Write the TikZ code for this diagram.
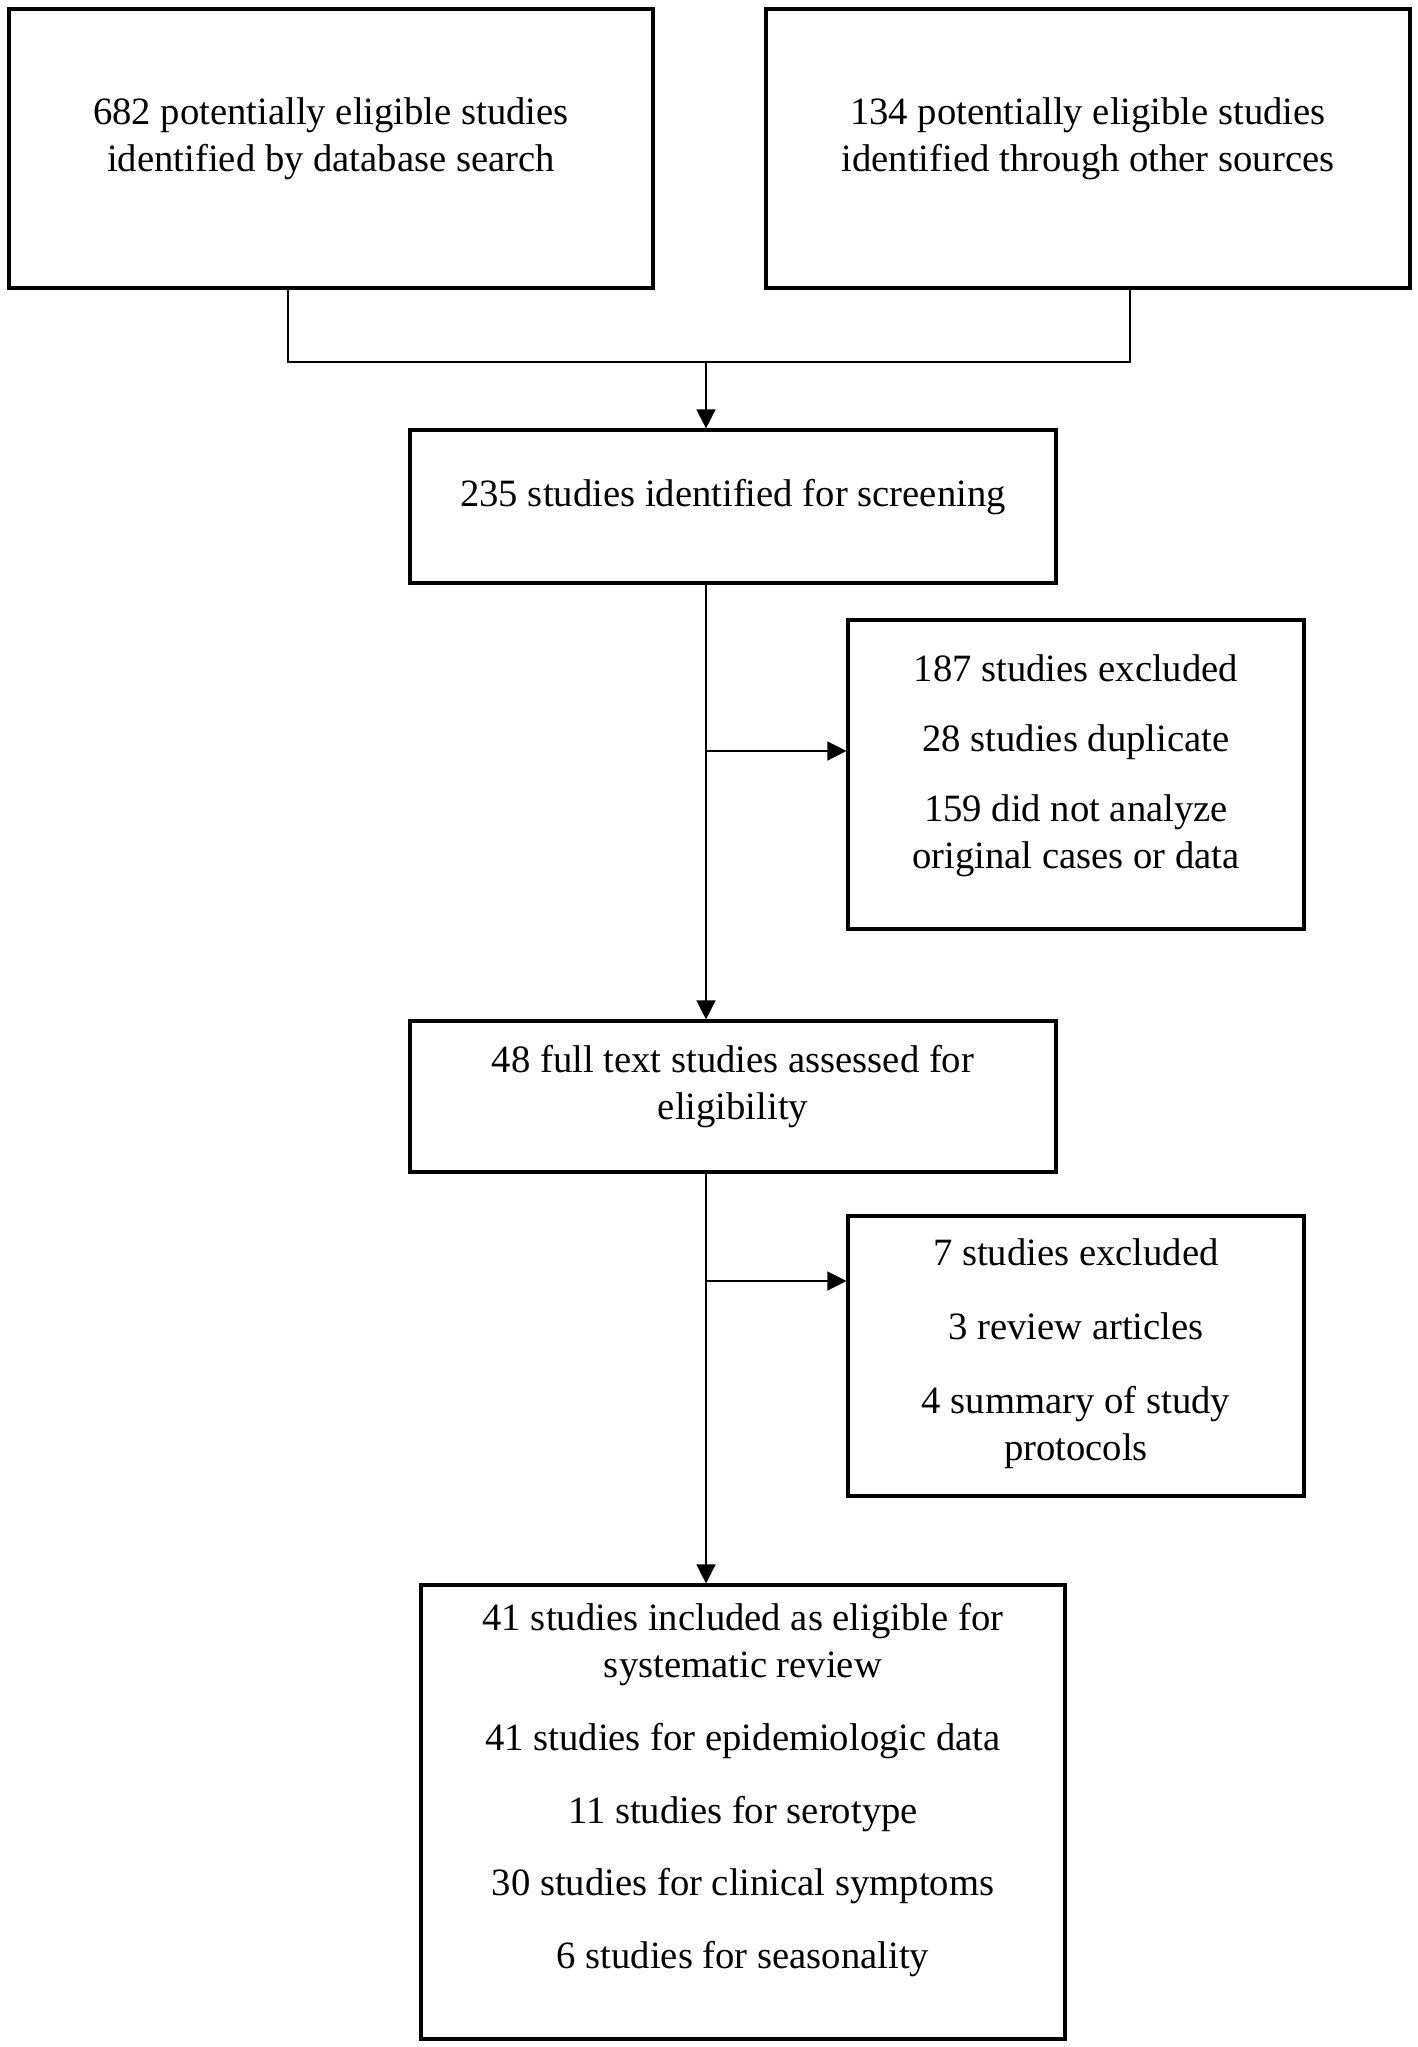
\documentclass[tikz,border=0pt]{standalone}
\usepackage{fontspec}
\setmainfont{Liberation Serif}
\usetikzlibrary{arrows.meta}

\begin{document}
\begin{tikzpicture}[
    box/.style={draw, line width=0.9pt, rectangle},
    txt/.style={align=center, font=\fontsize{11}{13.4}\selectfont},
    line/.style={line width=0.4pt},
    arrow/.style={line width=0.4pt, -{Triangle[length=0.19cm, width=0.19cm]}}
]
\useasboundingbox (0,0) rectangle (14.18,-20.47);

% Identification boxes (top row)
\node[box, minimum width=6.44cm, minimum height=2.79cm] (db) at (3.31,-1.485) {};
\node[txt] (dbtxt) at (3.31,-1.39) {682 potentially eligible studies\\identified by database search};
\node[box, minimum width=6.44cm, minimum height=2.79cm] (other) at (10.88,-1.485) {};
\node[txt] (othertxt) at (10.88,-1.39) {134 potentially eligible studies\\identified through other sources};

% Screening
\node[box, minimum width=6.46cm, minimum height=1.53cm] (screen) at (7.33,-5.065) {};
\node[txt] (screentxt) at (7.33,-4.97) {235 studies identified for screening};

% First exclusion
\node[box, minimum width=4.56cm, minimum height=3.09cm] (excla) at (10.76,-7.745) {};
\node[txt] (exclatxt) at (10.76,-7.66) {187 studies excluded\\[6.5pt]28 studies duplicate\\[6.5pt]159 did not analyze\\original cases or data};

% Eligibility
\node[box, minimum width=6.46cm, minimum height=1.51cm] (full) at (7.33,-10.965) {};
\node[txt] (fulltxt) at (7.33,-10.87) {48 full text studies assessed for\\eligibility};

% Second exclusion
\node[box, minimum width=4.56cm, minimum height=2.80cm] (exclb) at (10.76,-13.56) {};
\node[txt] (exclbtxt) at (10.76,-13.54) {7 studies excluded\\[7.6pt]3 review articles\\[7.6pt]4 summary of study\\protocols};

% Included
\node[box, minimum width=6.44cm, minimum height=4.54cm] (incl) at (7.43,-18.12) {};
\node[txt] (incltxt) at (7.43,-17.90) {41 studies included as eligible for\\systematic review\\[7.3pt]41 studies for epidemiologic data\\[7.3pt]11 studies for serotype\\[7.3pt]30 studies for clinical symptoms\\[7.3pt]6 studies for seasonality};

% Connectors
\coordinate (mergeL) at (2.88,-3.62);
\coordinate (mergeR) at (11.30,-3.62);
\coordinate (merge) at (7.06,-3.62);
\coordinate (splita) at (7.06,-7.51);
\coordinate (splitb) at (7.06,-12.81);

\draw[line] (mergeL |- db.south) -- (mergeL) -- (mergeR) -- (mergeR |- other.south);
\draw[arrow] (merge) -- (merge |- screen.north);
\draw[arrow] (merge |- screen.south) -- (merge |- full.north);
\draw[arrow] (splita) -- (splita -| excla.west);
\draw[arrow] (merge |- full.south) -- (merge |- incl.north);
\draw[arrow] (splitb) -- (splitb -| exclb.west);

\end{tikzpicture}
\end{document}
